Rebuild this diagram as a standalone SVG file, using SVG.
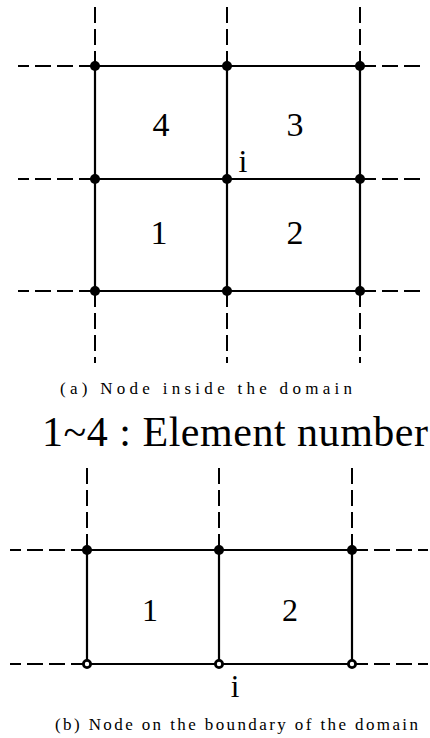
<svg xmlns="http://www.w3.org/2000/svg" width="430" height="738" viewBox="0 0 430 738">
<style>
.solid{stroke:#000;stroke-width:2.2;fill:none}
.dash{stroke:#000;stroke-width:2;fill:none;stroke-dasharray:16 6}
.dot{fill:#000}
.ring{fill:#fff;stroke:#000;stroke-width:2.8}
.num{font-family:"Liberation Serif","Times New Roman",serif;fill:#000}
.cap{font-family:"Liberation Serif","Times New Roman",serif;fill:#000;font-size:17px}
</style>
<rect width="430" height="738" fill="#fff"/>
<g id="connectors">
  <path class="dash" d="M95,7V66M227,7V66M360,7V66"/>
  <path class="dash" d="M95,291V363M227,291V363M360,291V363"/>
  <path class="dash" d="M95,66H18M95,179H18M95,291H18"/>
  <path class="dash" d="M360,66H426M360,179H426M360,291H426"/>
  <path class="solid" d="M95,66H360M95,179H360M95,291H360M95,66V291M227,66V291M360,66V291"/>
  <path class="dash" d="M87,468V550M219,468V550M352,468V550"/>
  <path class="dash" d="M87,550H10M87,664H10"/>
  <path class="dash" d="M352,550H428M352,664H428"/>
  <path class="solid" d="M87,550H352M87,664H352M87,550V664M219,550V664M352,550V664"/>
</g>
<g id="nodes-a">
  <circle class="dot" cx="95" cy="66" r="5"/>
  <circle class="dot" cx="227" cy="66" r="5"/>
  <circle class="dot" cx="360" cy="66" r="5"/>
  <circle class="dot" cx="95" cy="179" r="5"/>
  <circle class="dot" cx="227" cy="179" r="5"/>
  <circle class="dot" cx="360" cy="179" r="5"/>
  <circle class="dot" cx="95" cy="291" r="5"/>
  <circle class="dot" cx="227" cy="291" r="5"/>
  <circle class="dot" cx="360" cy="291" r="5"/>
</g>
<g id="nodes-b">
  <circle class="dot" cx="87" cy="550" r="5"/>
  <circle class="dot" cx="219" cy="550" r="5"/>
  <circle class="dot" cx="352" cy="550" r="5"/>
  <circle class="ring" cx="87" cy="664" r="3.6"/>
  <circle class="ring" cx="219" cy="664" r="3.6"/>
  <circle class="ring" cx="352" cy="664" r="3.6"/>
</g>
<g id="element-4"><text class="num" x="161" y="136" font-size="34" text-anchor="middle">4</text></g>
<g id="element-3"><text class="num" x="295" y="136" font-size="34" text-anchor="middle">3</text></g>
<g id="element-1a"><text class="num" x="159" y="244" font-size="34" text-anchor="middle">1</text></g>
<g id="element-2a"><text class="num" x="295" y="244" font-size="34" text-anchor="middle">2</text></g>
<g id="label-i-a"><text class="num" x="243" y="172" font-size="32" text-anchor="middle">i</text></g>
<g id="caption-a"><text class="cap" x="60" y="394" textLength="292" lengthAdjust="spacing">(a)  Node inside the domain</text></g>
<g id="legend"><text class="num" x="42" y="446" font-size="42" textLength="386" lengthAdjust="spacing">1~4 : Element number</text></g>
<g id="element-1b"><text class="num" x="150" y="621" font-size="32" text-anchor="middle">1</text></g>
<g id="element-2b"><text class="num" x="290" y="621" font-size="32" text-anchor="middle">2</text></g>
<g id="label-i-b"><text class="num" x="235" y="697" font-size="31" text-anchor="middle">i</text></g>
<g id="caption-b"><text class="cap" x="55" y="730" textLength="363" lengthAdjust="spacing">(b)  Node on the boundary of the domain</text></g>
</svg>
